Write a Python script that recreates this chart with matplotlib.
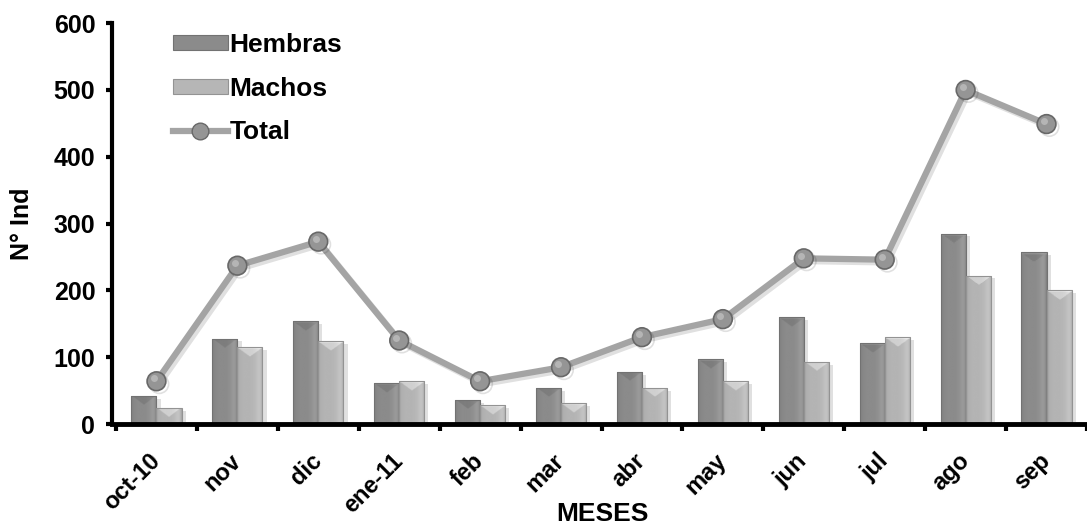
import matplotlib.pyplot as plt
import matplotlib.patheffects as pe
import matplotlib.transforms as mtransforms
from matplotlib.patches import Patch
from matplotlib.lines import Line2D
import numpy as np

# Número de individuos por mes
meses = ['oct-10', 'nov', 'dic', 'ene-11', 'feb', 'mar',
         'abr', 'may', 'jun', 'jul', 'ago', 'sep']
hembras = [42, 128, 154, 61, 36, 54, 78, 97, 160, 121, 285, 257]
machos = [24, 115, 124, 64, 28, 31, 54, 64, 93, 130, 222, 200]
total = [64, 237, 273, 125, 64, 85, 130, 157, 248, 246, 500, 449]

plt.rcParams['font.family'] = ['Liberation Sans', 'DejaVu Sans']
plt.rcParams['font.weight'] = 'bold'

fig = plt.figure(figsize=(10.87, 5.27), dpi=100)
ax = fig.add_axes([0.103, 0.1954, 0.897, 0.7606])

x = np.arange(len(meses))
ancho = 0.31


def sombrear(barras, base, bisel_tono):
    # relleno con degradado horizontal y un bisel en la parte superior
    perfil = np.array([-10, -6, -3, -1, 0, 0, 0, 0, 1, 3, 6, 12, 16, 8, -14])
    uu = np.linspace(0, 1, 60)
    fila = base + np.interp(uu, np.linspace(0, 1, len(perfil)), perfil)
    for b in barras:
        x0, y0 = b.get_x(), b.get_y()
        w, h = b.get_width(), b.get_height()
        ny = 150
        v = np.linspace(0, h, ny)[:, None]            # distancia desde arriba
        img = np.repeat(fila[None, :], ny, axis=0)
        bisel = 14 * (1 - np.abs(2 * uu[None, :] - 1))
        img = np.where(v < bisel, img + bisel_tono, img)
        img = np.where(v < 2, img + 20, img)
        img = np.clip(img, 0, 255) / 255.0
        im = ax.imshow(img, cmap='gray', vmin=0, vmax=1, aspect='auto',
                       extent=(x0, x0 + w, y0, y0 + h), origin='upper',
                       interpolation='bilinear', zorder=2.1)
        im.set_clip_path(b)


sombra = [pe.SimplePatchShadow(offset=(3, -2), shadow_rgbFace='#000000', alpha=0.12)]
b1 = ax.bar(x - ancho / 2, hembras, ancho, color='#8b8b8b', linewidth=0, zorder=2)
b2 = ax.bar(x + ancho / 2, machos, ancho, color='#b6b6b6', linewidth=0, zorder=2)
for b in list(b1) + list(b2):
    b.set_path_effects(sombra)
sombrear(b1, 139, -14)
sombrear(b2, 180, 28)
# contornos de las barras
ax.bar(x - ancho / 2, hembras, ancho, fill=False, edgecolor='#727272', linewidth=0.8, zorder=2.2)
ax.bar(x + ancho / 2, machos, ancho, fill=False, edgecolor='#939393', linewidth=0.8, zorder=2.2)

ax.plot(x, total, '-', color='#a4a4a4', linewidth=4.5, marker='o',
        markersize=13.5, markerfacecolor='#959595', markeredgecolor='#686868',
        markeredgewidth=1.2, zorder=3,
        path_effects=[pe.SimpleLineShadow(offset=(2, -2), alpha=0.12), pe.Normal()])
# brillo de las esferas
brillo = ax.transData + mtransforms.ScaledTranslation(-2 / 72, 2 / 72, fig.dpi_scale_trans)
ax.plot(x, total, 'o', markersize=5, color='#c4c4c4', alpha=0.7,
        markeredgewidth=0, transform=brillo, zorder=3.1)

ax.set_xlim(-0.55, 11.5)
ax.set_ylim(0, 600)
ax.set_yticks(range(0, 601, 100))
ax.set_xticks(x)
ax.set_xticklabels(meses, rotation=45, ha='right', va='center', rotation_mode='anchor')
ax.set_xticks(np.arange(-0.5, 12, 1), minor=True)
ax.tick_params(axis='x', which='major', length=0, labelsize=17, pad=24)
ax.tick_params(axis='x', which='minor', length=5, width=3, direction='out')
ax.tick_params(axis='y', labelsize=18, length=4, width=3, pad=8)

for lado in ['top', 'right']:
    ax.spines[lado].set_visible(False)
ax.spines['left'].set_linewidth(3)
ax.spines['bottom'].set_linewidth(3.5)

ax.set_xlabel('MESES', fontsize=19, fontweight='bold')
ax.xaxis.set_label_coords(0.503, -0.195)
ax.set_ylabel('N° Ind', fontsize=18, fontweight='bold')
ax.yaxis.set_label_coords(-0.08, 0.5)

leyenda = [
    Patch(facecolor='#8b8b8b', edgecolor='#727272', linewidth=0.8, label='Hembras'),
    Patch(facecolor='#b6b6b6', edgecolor='#939393', linewidth=0.8, label='Machos'),
    Line2D([], [], color='#a4a4a4', linewidth=4.5, marker='o', markersize=12,
           markerfacecolor='#959595', markeredgecolor='#686868', label='Total'),
]
ax.legend(handles=leyenda, loc='upper left', bbox_to_anchor=(0.038, 1.035), frameon=False,
          fontsize=19, handlelength=2.1, handleheight=0.5,
          handletextpad=0.05, labelspacing=0.75)

fig.savefig('out.png', dpi=100)
